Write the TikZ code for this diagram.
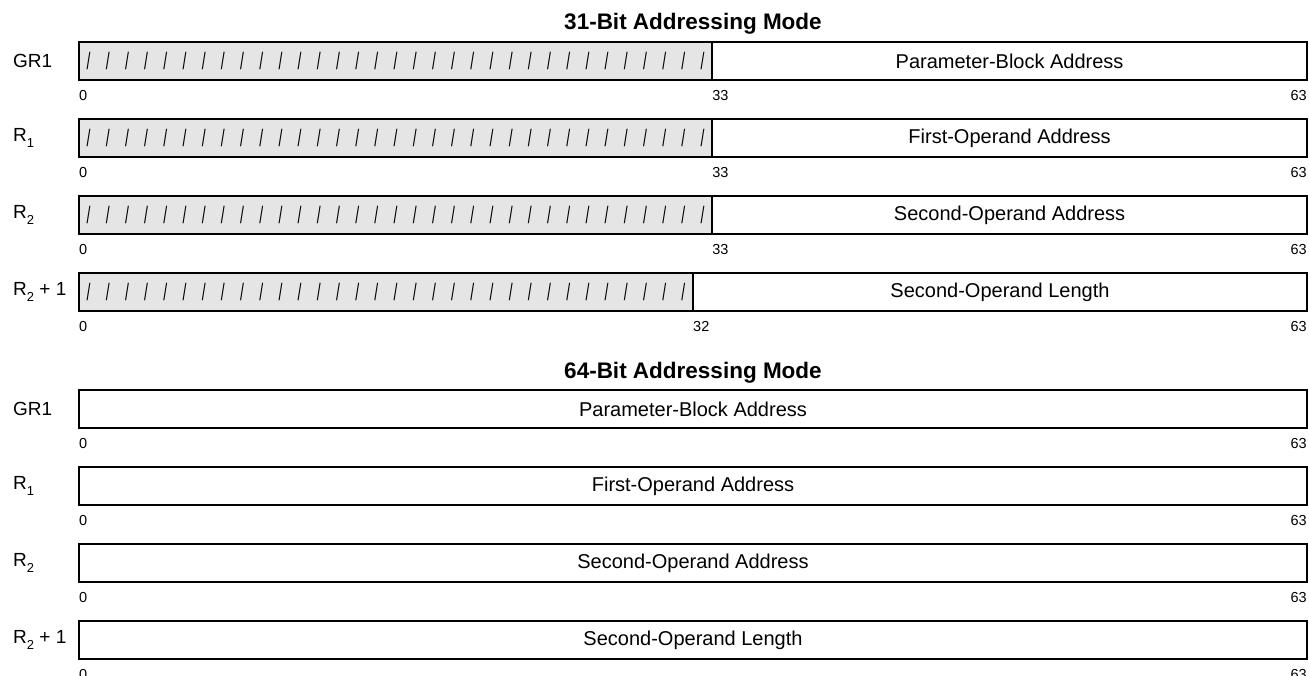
\documentclass[tikz,border=0pt]{standalone}
\usepackage{fontspec}
\setmainfont{Liberation Sans}
\begin{document}
\begin{tikzpicture}[x=1pt,y=-1pt,
  fld/.style={draw, line width=2pt, inner sep=0pt, outer sep=0pt, minimum height=38pt, anchor=north west, font=\fontsize{20}{20}\selectfont},
  rsv/.style={fld, fill=gray!20},
  bitn/.style={font=\fontsize{14.5}{14.5}\selectfont, inner sep=0pt},
  rlab/.style={anchor=west, font=\fontsize{19}{19}\selectfont, inner sep=0pt},
  ttl/.style={font=\bfseries\fontsize{22.5}{22.5}\selectfont, inner sep=0pt},
  sl/.style={font=\fontsize{28}{28}\selectfont, inner sep=0pt}
]
\useasboundingbox (0,0) rectangle (1309,676);
\def\bw{19.1875}
\def\sub#1{\raisebox{-0.3em}{\fontsize{13}{13}\selectfont #1}}
\def\sls{\scalebox{0.5}[0.85]{/}}
% ---------- 31-bit ----------
\node[ttl] (t31) at (693,24) {31-Bit Addressing Mode};
% row 1
\node[rlab] (l1) at (13,61) {GR1};
\node[rsv, minimum width={33*\bw pt}] (a1) at (79,42) {};
\node[fld, minimum width={31*\bw pt}] (b1) at (a1.north east) {Parameter-Block Address};
\foreach \i in {0,...,32} \node[sl] (s1-\i) at ({79+(\i+0.5)*\bw},61) {\sls};
\node[bitn, anchor=west] (n1a) at (79,96) {0};
\node[bitn, anchor=west] (n1b) at (a1.south east |- 0,96) {33};
\node[bitn, anchor=east] (n1c) at (1307,96) {63};
% row 2
\node[rlab] (l2) at (13,138) {R\sub{1}};
\node[rsv, minimum width={33*\bw pt}] (a2) at (79,119) {};
\node[fld, minimum width={31*\bw pt}] (b2) at (a2.north east) {First-Operand Address};
\foreach \i in {0,...,32} \node[sl] (s2-\i) at ({79+(\i+0.5)*\bw},138) {\sls};
\node[bitn, anchor=west] (n2a) at (79,173) {0};
\node[bitn, anchor=west] (n2b) at (a2.south east |- 0,173) {33};
\node[bitn, anchor=east] (n2c) at (1307,173) {63};
% row 3
\node[rlab] (l3) at (13,215) {R\sub{2}};
\node[rsv, minimum width={33*\bw pt}] (a3) at (79,196) {};
\node[fld, minimum width={31*\bw pt}] (b3) at (a3.north east) {Second-Operand Address};
\foreach \i in {0,...,32} \node[sl] (s3-\i) at ({79+(\i+0.5)*\bw},215) {\sls};
\node[bitn, anchor=west] (n3a) at (79,250) {0};
\node[bitn, anchor=west] (n3b) at (a3.south east |- 0,250) {33};
\node[bitn, anchor=east] (n3c) at (1307,250) {63};
% row 4
\node[rlab] (l4) at (13,292) {R\sub{2} + 1};
\node[rsv, minimum width={32*\bw pt}] (a4) at (79,273) {};
\node[fld, minimum width={32*\bw pt}] (b4) at (a4.north east) {Second-Operand Length};
\foreach \i in {0,...,31} \node[sl] (s4-\i) at ({79+(\i+0.5)*\bw},292) {\sls};
\node[bitn, anchor=west] (n4a) at (79,327) {0};
\node[bitn, anchor=west] (n4b) at (a4.south east |- 0,327) {32};
\node[bitn, anchor=east] (n4c) at (1307,327) {63};
% ---------- 64-bit ----------
\node[ttl] (t64) at (693,373) {64-Bit Addressing Mode};
\node[rlab] (m1) at (13,409) {GR1};
\node[fld, minimum width={64*\bw pt}] (c1) at (79,390) {Parameter-Block Address};
\node[bitn, anchor=west] (p1a) at (79,444) {0};
\node[bitn, anchor=east] (p1c) at (1307,444) {63};
\node[rlab] (m2) at (13,486) {R\sub{1}};
\node[fld, minimum width={64*\bw pt}] (c2) at (79,467) {First-Operand Address};
\node[bitn, anchor=west] (p2a) at (79,521) {0};
\node[bitn, anchor=east] (p2c) at (1307,521) {63};
\node[rlab] (m3) at (13,563) {R\sub{2}};
\node[fld, minimum width={64*\bw pt}] (c3) at (79,544) {Second-Operand Address};
\node[bitn, anchor=west] (p3a) at (79,598) {0};
\node[bitn, anchor=east] (p3c) at (1307,598) {63};
\node[rlab] (m4) at (13,640) {R\sub{2} + 1};
\node[fld, minimum width={64*\bw pt}] (c4) at (79,621) {Second-Operand Length};
\node[bitn, anchor=west] (p4a) at (79,675) {0};
\node[bitn, anchor=east] (p4c) at (1307,675) {63};
\end{tikzpicture}
\end{document}
